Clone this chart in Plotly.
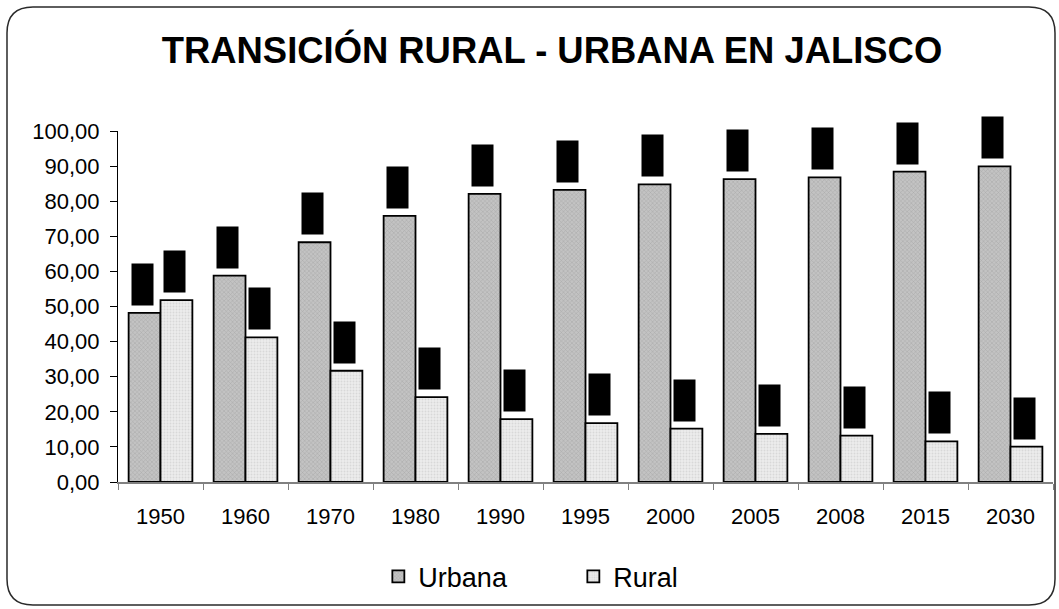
import plotly.graph_objects as go

years = ["1950", "1960", "1970", "1980", "1990", "1995", "2000", "2005", "2008", "2015", "2030"]
urbana = [48.2, 58.8, 68.3, 75.8, 82.1, 83.2, 84.8, 86.3, 86.8, 88.4, 89.9]
rural = [51.8, 41.2, 31.7, 24.2, 17.9, 16.8, 15.2, 13.7, 13.2, 11.6, 10.1]
title_text = "TRANSICIÓN RURAL - URBANA EN JALISCO"

W, H = 1059, 609
L, R, T, B = 118, 6, 131, 127
pw, ph = W - L - R, H - T - B

fig = go.Figure()
fig.add_trace(go.Bar(
    x=years, y=urbana, name="Urbana",
    marker=dict(color="#bdbdbd", line=dict(color="#000000", width=1.8),
                pattern=dict(shape="x", size=3, solidity=0.3,
                             fgcolor="#8c8c8c", bgcolor="#c3c3c3")),
))
fig.add_trace(go.Bar(
    x=years, y=rural, name="Rural",
    marker=dict(color="#e2e2e2", line=dict(color="#000000", width=1.8),
                pattern=dict(shape=".", size=3, solidity=0.3,
                             fgcolor="#c4c4c4", bgcolor="#ececec")),
))

# black label boxes above each bar (values hidden)
for series, shift in ((urbana, -18), (rural, 14)):
    for i, v in enumerate(series):
        fig.add_annotation(
            x=i, y=v, xref="x", yref="y", text=f"{v:.2f}".replace(".", ","),
            showarrow=False, xshift=shift, yshift=7, yanchor="bottom",
            width=21, height=41, bgcolor="#000000", borderpad=0,
            font=dict(color="#000000", size=6),
        )

def P(px, py):
    a, b = (px - L) / pw, (H - B - py) / ph
    return f"{a:.5f},{b:.5f}"

# rounded chart border
x0, y0, x1, y1 = 7, 7, 1055, 605
r = 26
path = (f"M {P(x0 + r, y0)} L {P(x1 - r, y0)} Q {P(x1, y0)} {P(x1, y0 + r)} "
        f"L {P(x1, y1 - r)} Q {P(x1, y1)} {P(x1 - r, y1)} "
        f"L {P(x0 + r, y1)} Q {P(x0, y1)} {P(x0, y1 - r)} "
        f"L {P(x0, y0 + r)} Q {P(x0, y0)} {P(x0 + r, y0)} Z")
fig.add_shape(type="path", path=path, xref="paper", yref="paper",
              line=dict(color="#2a2a2a", width=1.5), layer="below")

fig.update_layout(
    width=W, height=H,
    margin=dict(l=L, r=R, t=T, b=B, pad=0, autoexpand=False),
    paper_bgcolor="white", plot_bgcolor="white",
    separators=",.",
    barmode="group", bargap=0.25, bargroupgap=0,
    font=dict(family="Liberation Sans, Arial, sans-serif", color="#000000"),
    title=dict(text=f"<b>{title_text}</b>", x=552 / W, xanchor="center",
               y=1 - 50 / H, yanchor="middle",
               font=dict(size=36.4, family="Liberation Sans, Arial, sans-serif")),
    legend=dict(orientation="h", x=0.487, xanchor="center", y=-0.27, yanchor="middle",
                font=dict(size=27), entrywidth=150, itemwidth=30,
                bgcolor="rgba(0,0,0,0)"),
    showlegend=True,
)
fig.update_xaxes(type="category", range=[-0.5, len(years) - 0.5], autorange=False,
                 showline=True, linecolor="#808080", linewidth=1.5,
                 ticks="outside", tickson="boundaries", ticklen=6, tickcolor="#808080",
                 tickfont=dict(size=22), tickangle=0, ticklabelstandoff=14,
                 showgrid=False, automargin=False)
fig.update_yaxes(range=[0, 100], autorange=False, dtick=10, tickformat=".2f", showline=True,
                 linecolor="#000000", linewidth=1, ticks="outside", ticklen=7,
                 tickcolor="#000000", tickfont=dict(size=22), showgrid=False,
                 zeroline=False, ticklabelstandoff=6, automargin=False)

fig.write_html("out.html", config={"displayModeBar": False},
               post_script="document.body.style.margin='0';document.body.style.overflow='hidden';")
